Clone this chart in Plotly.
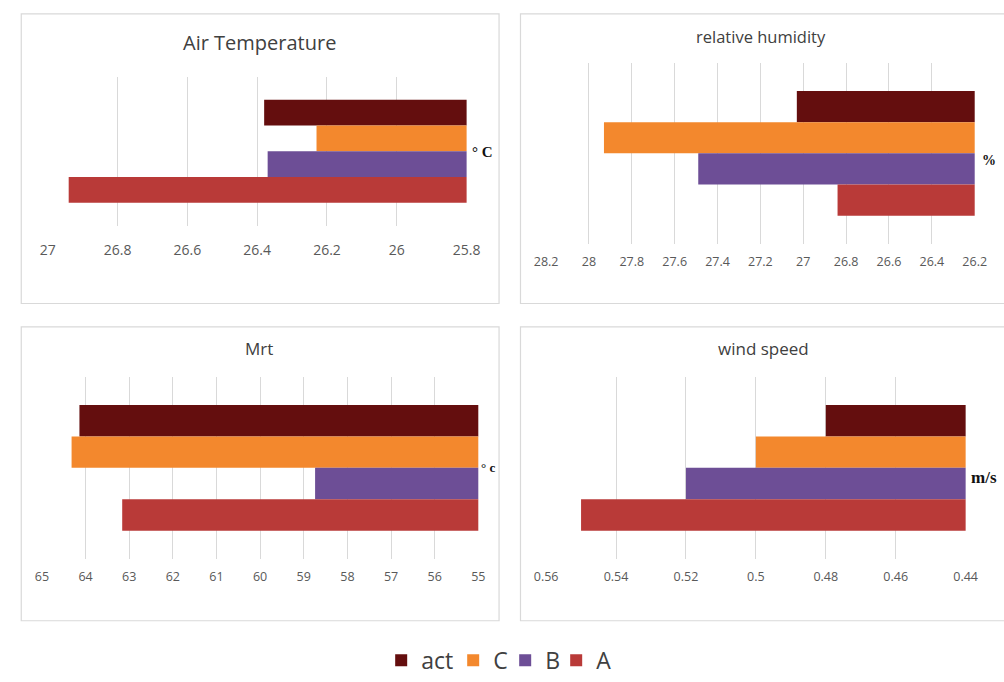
import plotly.graph_objects as go

W, H = 1004, 682

series = ["act", "C", "B", "A"]
colors = ["#640E0E", "#F3882D", "#6D4E96", "#B93A38"]

air_temp = [26.38, 26.23, 26.37, 26.94]
rel_humidity = [27.03, 27.93, 27.49, 26.84]
mrt = [64.14, 64.32, 58.74, 63.16]
wind_speed = [0.48, 0.50, 0.52, 0.55]

titles = ["Air Temperature", "relative humidity", "Mrt", "wind speed"]
units = ["° C", "%", "° c", "m/s"]

# legend entry widths (px) so the legend is as tight as the original
legend_widths = [27, 7, 6, 16]


def px_x(v):
    return v / W


def px_y(v):
    return 1 - v / H


# panel layout in pixels: plot area (x0, x1, y0, y1), frame, title y, etc.
panels = [
    dict(data=air_temp, rng=[27, 25.8], dtick=0.2, plot=(36.7, 466.7, 77.7, 229.3),
         frame=(9.5, 500, 14, 308), title_y=43, title_x=254, title_size=20,
         tick_size=14, standoff=14, unit_xy=(470, 154), unit_size=15),
    dict(data=rel_humidity, rng=[28.2, 26.2], dtick=0.2, plot=(548.3, 988.3, 64, 247.3),
         frame=(522, 1020, 14, 308), title_y=37, title_x=769, title_size=16.5,
         tick_size=12.5, standoff=9, unit_xy=(994, 163), unit_size=14),
    dict(data=mrt, rng=[65, 55], dtick=1, plot=(30.7, 478.7, 382.3, 567.3),
         frame=(9.5, 500, 331.7, 630), title_y=354, title_x=254, title_size=17,
         tick_size=12.5, standoff=9, unit_xy=(479, 474), unit_size=13),
    dict(data=wind_speed, rng=[0.56, 0.44], dtick=0.02, plot=(548.3, 979, 382.3, 567.3),
         frame=(522, 1020, 331.7, 630), title_y=354, title_x=771, title_size=17,
         tick_size=12.5, standoff=9, unit_xy=(982, 485), unit_size=17),
]

fig = go.Figure()

shapes = []
annotations = []
for i, p in enumerate(panels):
    n = "" if i == 0 else str(i + 1)
    for j, name in enumerate(series):
        fig.add_trace(go.Bar(
            y=[titles[i]], x=[p["data"][j]], name=name, orientation="h",
            marker=dict(color=colors[j], line=dict(width=0)),
            legendgroup=name, showlegend=(i == 0), legendwidth=legend_widths[j],
            xaxis="x" + n, yaxis="y" + n,
        ))
    x0, x1, y0, y1 = p["plot"]
    fig.update_layout(**{
        "xaxis" + n: dict(
            domain=[px_x(x0), px_x(x1)], range=p["rng"], dtick=p["dtick"],
            showgrid=True, gridcolor="#D9D9D9", gridwidth=1, zeroline=False,
            showline=False, ticks="", ticklabelstandoff=p["standoff"],
            tickfont=dict(family="Open Sans", size=p["tick_size"], color="#595959"),
            anchor="y" + n, fixedrange=True,
        ),
        "yaxis" + n: dict(
            domain=[px_y(y1), px_y(y0)], showticklabels=False, showgrid=False,
            zeroline=False, autorange="reversed", anchor="x" + n, fixedrange=True,
        ),
    })
    fx0, fx1, fy0, fy1 = p["frame"]
    shapes.append(dict(type="rect", xref="paper", yref="paper",
                       x0=px_x(fx0), x1=px_x(fx1), y0=px_y(fy1), y1=px_y(fy0),
                       line=dict(color="#D9D9D9", width=1.2), layer="below"))
    annotations.append(dict(text=titles[i], xref="paper", yref="paper",
                            x=px_x(p["title_x"]), y=px_y(p["title_y"]),
                            xanchor="center", yanchor="middle", showarrow=False,
                            font=dict(family="Open Sans", size=p["title_size"], color="#404040")))
    ux, uy = p["unit_xy"]
    annotations.append(dict(text="<b>" + units[i] + "</b>", xref="paper", yref="paper",
                            x=px_x(ux), y=px_y(uy), xanchor="left", yanchor="middle",
                            showarrow=False,
                            font=dict(family="Liberation Serif", size=p["unit_size"], color="#111111")))

fig.update_layout(
    width=W, height=H,
    margin=dict(l=0, r=0, t=0, b=0),
    paper_bgcolor="white", plot_bgcolor="white",
    barmode="group", bargap=0.31, bargroupgap=0,
    shapes=shapes, annotations=annotations,
    showlegend=True,
    legend=dict(orientation="h", x=px_x(379), xanchor="left", y=px_y(670), yanchor="middle",
                font=dict(family="Open Sans", size=23, color="#404040"),
                itemwidth=30, tracegroupgap=0, bgcolor="rgba(0,0,0,0)"),
)

# drop the browser's default 8px body margin so the figure fills the window exactly
fig.write_html("out.html", post_script="document.body.style.margin = '0';",
               config={"displayModeBar": False})
